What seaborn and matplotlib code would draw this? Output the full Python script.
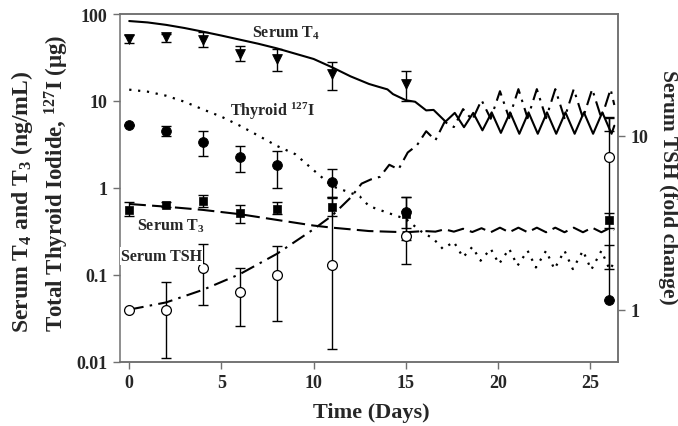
import numpy as np
import seaborn as sns
import matplotlib
matplotlib.use("Agg")
import matplotlib.pyplot as plt
from matplotlib.ticker import NullLocator

# measured data (days)
obs_days = [0, 2, 4, 6, 8, 11, 15, 26]

t4_obs = [51.6, 54, 50, 35, 30.4, 20.5, 15.7, 5.4]
t4_lo = [46, 47.5, 42, 29, 22, 13.4, 10.0, 4.5]
t4_hi = [57.8, 58.8, 62, 43, 39.6, 28, 22, 6.5]

i127_obs = [5.3, 4.56, 3.4, 2.27, 1.84, 1.18, 0.53, 0.051]
i127_lo = [5.3, 4.0, 2.33, 1.53, 1.0, 0.79, 0.35, 0.051]
i127_hi = [5.3, 5.2, 4.5, 3.04, 2.66, 1.65, 0.79, 0.22]

t3_obs = [0.56, 0.64, 0.71, 0.52, 0.58, 0.60, 0.50, 0.43]
t3_lo = [0.48, 0.60, 0.60, 0.40, 0.50, 0.48, 0.25, 0.35]
t3_hi = [0.69, 0.69, 0.83, 0.63, 0.69, 0.76, 0.55, 0.52]

tsh_obs = [1.0, 1.0, 1.73, 1.26, 1.59, 1.81, 2.66, 7.53]
tsh_lo = [1.0, 0.53, 1.06, 0.80, 0.86, 0.59, 1.83, 1.71]
tsh_hi = [1.0, 1.45, 2.39, 1.74, 2.32, 4.46, 4.44, 12.7]

# model simulations
t4_days = [0, 1, 2, 3, 4, 5, 6, 7, 8, 9, 10, 11, 12, 13, 13.5, 14, 14.3, 15, 15.5,
           16.1, 16.5, 17.15, 17.65, 18.15, 18.65, 19.15, 19.65, 20.15, 20.65, 21.15,
           21.65, 22.15, 22.65, 23.15, 23.65, 24.15, 24.65, 25.15, 25.65, 26.15, 26.3]
t4_sim = [83, 80, 75, 69, 62.6, 56.5, 50.7, 45.5, 40.3, 35, 30.4, 24.4, 19.2, 15.7, 14.6,
          13.6, 12.0, 10.2, 9.8, 7.8, 7.9, 5.8, 7.3, 5.0, 7.3, 4.6, 7.4, 4.3, 7.4, 4.2,
          7.4, 4.2, 7.4, 4.2, 7.4, 4.2, 7.4, 4.2, 7.4, 4.2, 5.2]

i127_days = [0, 1, 2, 3, 4, 5, 6, 7, 8, 9, 10, 11, 12, 12.5, 13, 14, 15, 15.8, 16.5,
             17.0, 17.6, 18.1, 18.6, 19.05, 19.6, 20.05, 20.6, 21.05, 21.6, 22.05, 22.6,
             23.05, 23.6, 24.05, 24.6, 25.05, 25.6, 26.05, 26.3]
i127_sim = [13.5, 12.8, 11.5, 9.8, 8.0, 6.6, 5.2, 4.0, 3.05, 2.45, 1.6, 1.05, 0.88, 0.80,
            0.62, 0.52, 0.44, 0.32, 0.26, 0.20, 0.24, 0.16, 0.21, 0.146, 0.20, 0.134,
            0.20, 0.128, 0.19, 0.122, 0.19, 0.117, 0.19, 0.117, 0.19, 0.115, 0.19, 0.115,
            0.14]

t3_days = [0, 2, 4, 6, 8, 10, 11, 12, 13, 14, 15, 16, 16.6, 17.1, 17.6, 18.1, 18.6,
           19.1, 19.6, 20.1, 20.6, 21.1, 21.6, 22.1, 22.6, 23.1, 23.6, 24.1, 24.6, 25.1,
           25.6, 26.1, 26.3]
t3_sim = [0.655, 0.61, 0.56, 0.50, 0.43, 0.37, 0.35, 0.335, 0.32, 0.315, 0.31, 0.32,
          0.315, 0.335, 0.315, 0.34, 0.312, 0.345, 0.31, 0.35, 0.31, 0.35, 0.31, 0.35,
          0.31, 0.35, 0.31, 0.35, 0.31, 0.35, 0.31, 0.35, 0.33]

tsh_days = [0, 2, 4, 6, 8, 10, 11, 12, 12.6, 13.1, 13.6, 14.1, 14.6, 15.1, 15.6, 16.1,
            16.6, 17.1, 17.6, 18.1, 18.6, 19.1, 19.6, 20.1, 20.6, 21.1, 21.6, 22.1, 22.6,
            23.1, 23.6, 24.1, 24.6, 25.1, 25.6, 26.1, 26.3]
tsh_sim = [1.0, 1.1, 1.3, 1.6, 2.09, 2.9, 3.47, 4.4, 5.3, 5.6, 5.8, 6.8, 6.4, 8.0, 8.8,
           10.6, 9.4, 12.0, 11.2, 14.2, 12.3, 16.0, 12.5, 18.0, 12.6, 18.5, 12.6, 18.5,
           12.6, 18.5, 12.6, 18.5, 12.6, 18.5, 12.6, 18.5, 15.0]

sns.set_style("ticks")
plt.rcParams["font.family"] = ["Liberation Serif", "DejaVu Serif"]
plt.rcParams["font.weight"] = "bold"
plt.rcParams["mathtext.fontset"] = "custom"
plt.rcParams["mathtext.rm"] = "Liberation Serif:bold"
plt.rcParams["mathtext.it"] = "Liberation Serif:bold"
plt.rcParams["mathtext.bf"] = "Liberation Serif:bold"
plt.rcParams["mathtext.default"] = "rm"

spine_col = "#707070"

fig = plt.figure(figsize=(6.78, 4.27), dpi=100)
ax = fig.add_axes([120 / 678, 64 / 427, 498 / 678, 348 / 427])
ax2 = ax.twinx()

# model curves
sns.lineplot(x=t4_days, y=t4_sim, ax=ax, color="black", lw=1.5, linestyle="-")
sns.lineplot(x=i127_days, y=i127_sim, ax=ax, color="black", lw=1.6,
             linestyle=(0, (1, 3.0)))
sns.lineplot(x=t3_days, y=t3_sim, ax=ax, color="black", lw=1.5,
             linestyle=(0, (8, 3)))
sns.lineplot(x=tsh_days, y=tsh_sim, ax=ax2, color="black", lw=1.5,
             linestyle=(0, (7, 3, 1.2, 3)))

def err(obs, lo, hi):
    o = np.array(obs)
    return [o - np.array(lo), np.array(hi) - o]

eb = dict(fmt="none", ecolor="black", elinewidth=1, capsize=3.5, capthick=1)
ax.errorbar(obs_days, t4_obs, yerr=err(t4_obs, t4_lo, t4_hi), **eb)
ax.errorbar(obs_days, i127_obs, yerr=err(i127_obs, i127_lo, i127_hi), **eb)
ax.errorbar(obs_days, t3_obs, yerr=err(t3_obs, t3_lo, t3_hi), **eb)
ax2.errorbar(obs_days, tsh_obs, yerr=err(tsh_obs, tsh_lo, tsh_hi), **eb)

# last T4 triangle sits under the model curve in the original
sns.scatterplot(x=obs_days[:-1], y=t4_obs[:-1], ax=ax, marker="v", s=50,
                color="black", edgecolor="black", zorder=4)
sns.scatterplot(x=obs_days, y=i127_obs, ax=ax, marker="o", s=50, color="black",
                edgecolor="black", zorder=4)
sns.scatterplot(x=obs_days, y=t3_obs, ax=ax, marker="s", s=38, color="black",
                edgecolor="black", zorder=4)
sns.scatterplot(x=obs_days, y=tsh_obs, ax=ax2, marker="o", s=50, color="white",
                edgecolor="black", linewidth=0.9, zorder=4)

ax.set_yscale("log")
ax2.set_yscale("log")
ax.set_xlim(-0.5, 26.5)
ax.set_ylim(0.01, 100)
ax2.set_ylim(0.5, 50)

ax.set_xticks([0, 5, 10, 15, 20, 25])
ax.set_yticks([0.01, 0.1, 1, 10, 100])
ax.set_yticklabels(["0.01", "0.1", "1", "10", "100"])
ax.yaxis.set_minor_locator(NullLocator())
ax2.set_yticks([1, 10])
ax2.set_yticklabels(["1", "10"])
ax2.yaxis.set_minor_locator(NullLocator())

for a in (ax, ax2):
    for sp in a.spines.values():
        sp.set_color(spine_col)
        sp.set_linewidth(1.1)
        sp.set_visible(True)
    a.tick_params(axis="both", direction="out", length=5, width=1, color=spine_col,
                  labelsize=13, pad=4)
ax2.spines["left"].set_visible(False)
ax.set_xlabel("")
ax.set_ylabel("")
ax2.set_ylabel("")

# curve labels
ax2.text(8.46, 62, "Serum T$_4$", transform=ax.transData, ha="center", va="center",
         fontsize=11.5)
ax2.text(7.75, 7.9, "Thyroid $^{127}$I", transform=ax.transData, ha="center",
         va="center", fontsize=11.5)
ax2.text(2.25, 0.37, "Serum T$_3$", transform=ax.transData, ha="center", va="center",
         fontsize=11.5)
ax2.text(1.76, 0.165, "Serum TSH", transform=ax.transData, ha="center", va="center",
         fontsize=11.5, zorder=6,
         bbox=dict(boxstyle="square,pad=0.05", fc="white", ec="none"))

fig.text(371 / 678, 1 - 413 / 427, "Time (Days)", ha="center", va="center",
         fontsize=16)
fig.text(22 / 678, 1 - 202 / 427, "Serum T$_4$ and T$_3$ (ng/mL)", rotation=90,
         ha="center", va="center", fontsize=17)
fig.text(57 / 678, 1 - 183 / 427, "Total Thyroid Iodide, $^{127}$I (\u03bcg)",
         rotation=90, ha="center", va="center", fontsize=16.5)
fig.text(668 / 678, 1 - 187 / 427, "Serum TSH (fold change)", rotation=270,
         ha="center", va="center", fontsize=15.5)

fig.savefig("out.png", dpi=100)
